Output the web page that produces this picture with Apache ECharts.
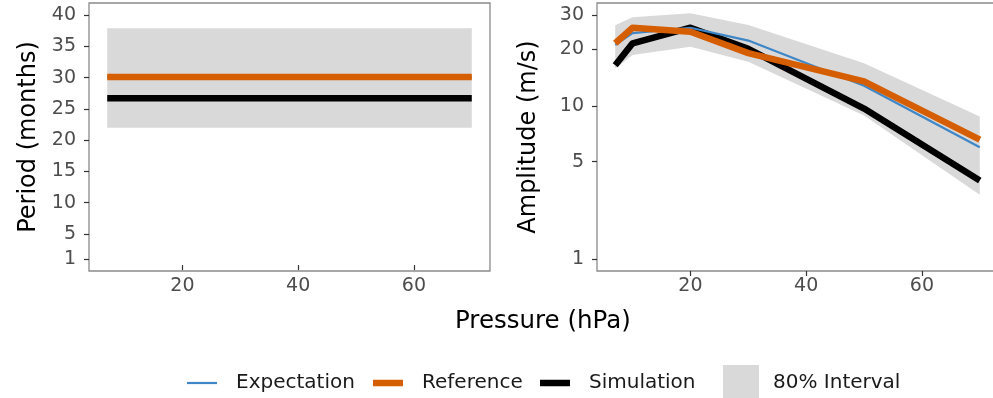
<!DOCTYPE html>
<html>
<head>
<meta charset="utf-8">
<script src="https://cdn.jsdelivr.net/npm/echarts@6/dist/echarts.min.js"></script>
<style>
html,body{margin:0;padding:0;background:#fff;}
#chart{width:993px;height:398px;}
</style>
</head>
<body>
<div id="chart"></div>
<script>
// ---- data ----
const pressure = [7, 10, 20, 30, 50, 70];
const xTicks = [20, 40, 60];

// Period panel (months)
const periodExpectation = [30.1, 30.1, 30.1, 30.1, 30.1, 30.1];
const periodReference   = [30.1, 30.1, 30.1, 30.1, 30.1, 30.1];
const periodSimulation  = [26.7, 26.7, 26.7, 26.7, 26.7, 26.7];
const periodLower       = [22.0, 22.0, 22.0, 22.0, 22.0, 22.0];
const periodUpper       = [37.9, 37.9, 37.9, 37.9, 37.9, 37.9];
const periodTicks = [1, 5, 10, 15, 20, 25, 30, 35, 40];

// Amplitude panel (m/s)
const ampExpectation = [21.0, 24.2, 25.8, 22.1, 12.8, 6.0];
const ampReference   = [21.4, 25.8, 24.6, 19.0, 13.5, 6.6];
const ampSimulation  = [16.4, 21.4, 25.8, 20.0, 9.7, 3.9];
const ampLower       = [15.8, 18.6, 20.5, 17.1, 8.9, 3.2];
const ampUpper       = [26.6, 29.3, 30.7, 26.7, 16.8, 8.8];
const ampTicks = [1, 5, 10, 20, 30];

// ---- pseudo-log transform (sigma = 1) ----
const tf = v => Math.asinh(v / 2);
const itf = t => 2 * Math.sinh(t);

const C_EXP = '#3F86C6', C_REF = '#D55E00', C_SIM = '#000000', C_BAND = '#D9D9D9';
const FONT = 'DejaVu Sans';

function pairs(xs, ys, f) { return xs.map((x, i) => [x, f ? f(ys[i]) : ys[i]]); }

function bandSeries(name, xIdx, yIdx, lower, upper, f) {
  return {
    name: name, type: 'custom', xAxisIndex: xIdx, yAxisIndex: yIdx, z: 1,
    silent: true, itemStyle: { color: C_BAND },
    data: [[pressure[0], f ? f(lower[0]) : lower[0]]],
    renderItem: function (params, api) {
      const pts = [];
      for (let i = 0; i < pressure.length; i++) pts.push(api.coord([pressure[i], f ? f(upper[i]) : upper[i]]));
      for (let i = pressure.length - 1; i >= 0; i--) pts.push(api.coord([pressure[i], f ? f(lower[i]) : lower[i]]));
      return { type: 'polygon', shape: { points: pts }, style: { fill: C_BAND } };
    }
  };
}

function lineSeries(name, xIdx, yIdx, vals, color, width, z, f) {
  return {
    name: name, type: 'line', xAxisIndex: xIdx, yAxisIndex: yIdx, z: z,
    data: pairs(pressure, vals, f), showSymbol: false, symbol: 'none', silent: true,
    lineStyle: { color: color, width: width, cap: 'butt', join: 'round' },
    itemStyle: { color: color }, animation: false
  };
}

const ampMinT = tf(1), ampMaxT = tf(30), ampPad = 0.05 * (ampMaxT - ampMinT);

function xAxis(gi) {
  return {
    type: 'value', gridIndex: gi, min: 3.85, max: 73.15,
    axisLine: { show: false }, splitLine: { show: false },
    axisTick: { show: true, length: 5, lineStyle: { color: '#333', width: 1.2 }, customValues: xTicks },
    axisLabel: { show: true, margin: 6, fontFamily: FONT, fontSize: 19, color: '#4D4D4D', customValues: xTicks }
  };
}

const legendText = pad => ({ fontFamily: FONT, fontSize: 20, color: '#1a1a1a', padding: [0, 0, 0, pad] });

const option = {
  animation: false,
  backgroundColor: '#fff',
  grid: [
    { left: 89, top: 3, width: 401, height: 268, show: true, borderColor: '#8a8a8a', borderWidth: 1.3, backgroundColor: 'transparent', outerBoundsMode: 'none', containLabel: false },
    { left: 597, top: 3, width: 401, height: 268, show: true, borderColor: '#8a8a8a', borderWidth: 1.3, backgroundColor: 'transparent', outerBoundsMode: 'none', containLabel: false }
  ],
  xAxis: [xAxis(0), xAxis(1)],
  yAxis: [
    {
      type: 'value', gridIndex: 0, min: -0.95, max: 41.95,
      name: 'Period (months)', nameLocation: 'middle', nameGap: 48,
      nameTextStyle: { fontFamily: FONT, fontSize: 24, color: '#000' },
      axisLine: { show: false }, splitLine: { show: false },
      axisTick: { show: true, length: 5, lineStyle: { color: '#333', width: 1.2 }, customValues: periodTicks },
      axisLabel: { show: true, margin: 13, fontFamily: FONT, fontSize: 19, color: '#4D4D4D', customValues: periodTicks }
    },
    {
      type: 'value', gridIndex: 1, min: ampMinT - ampPad, max: ampMaxT + ampPad,
      name: 'Amplitude (m/s)', nameLocation: 'middle', nameGap: 56,
      nameTextStyle: { fontFamily: FONT, fontSize: 24, color: '#000' },
      axisLine: { show: false }, splitLine: { show: false },
      axisTick: { show: true, length: 5, lineStyle: { color: '#333', width: 1.2 }, customValues: ampTicks.map(tf) },
      axisLabel: {
        show: true, margin: 13, fontFamily: FONT, fontSize: 19, color: '#4D4D4D',
        customValues: ampTicks.map(tf),
        formatter: v => String(Math.round(itf(v)))
      }
    }
  ],
  legend: [
    { left: 187, top: 373, padding: 0, itemWidth: 30, itemHeight: 10, selectedMode: false, data: [{ name: 'Expectation', icon: 'path://M0,0h30v2.2h-30z', itemStyle: { color: C_EXP } }], textStyle: legendText(14) },
    { left: 373, top: 373, padding: 0, itemWidth: 30, itemHeight: 10, selectedMode: false, data: [{ name: 'Reference', icon: 'path://M0,0h30v6.5h-30z', itemStyle: { color: C_REF } }], textStyle: legendText(14) },
    { left: 540, top: 373, padding: 0, itemWidth: 30, itemHeight: 10, selectedMode: false, data: [{ name: 'Simulation', icon: 'path://M0,0h30v6.5h-30z', itemStyle: { color: C_SIM } }], textStyle: legendText(14) },
    { left: 723, top: 365, padding: 0, itemWidth: 36, itemHeight: 36, selectedMode: false, data: [{ name: '80% Interval', icon: 'rect', itemStyle: { color: C_BAND } }], textStyle: legendText(9) }
  ],
  graphic: [
    { type: 'text', left: 455, top: 309, style: { text: 'Pressure (hPa)', fontFamily: FONT, fontSize: 24.5, fill: '#000' } }
  ],
  series: [
    bandSeries('80% Interval', 0, 0, periodLower, periodUpper),
    lineSeries('Expectation', 0, 0, periodExpectation, C_EXP, 2.2, 3),
    lineSeries('Simulation', 0, 0, periodSimulation, C_SIM, 6.5, 4),
    lineSeries('Reference', 0, 0, periodReference, C_REF, 6.5, 5),
    bandSeries('80% Interval', 1, 1, ampLower, ampUpper, tf),
    lineSeries('Simulation', 1, 1, ampSimulation, C_SIM, 6.5, 3, tf),
    lineSeries('Expectation', 1, 1, ampExpectation, C_EXP, 2.2, 4, tf),
    lineSeries('Reference', 1, 1, ampReference, C_REF, 6.5, 5, tf)
  ]
};

const chart = echarts.init(document.getElementById('chart'), null, { renderer: 'canvas' });
chart.setOption(option);
</script>
</body>
</html>
